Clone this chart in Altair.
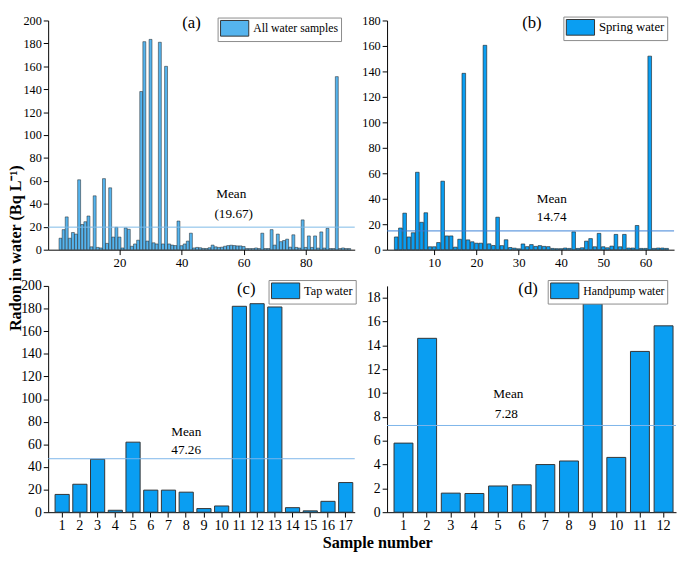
import altair as alt
import pandas as pd

# ---------------- data ----------------
all_values = [10, 17.5, 28.6, 10, 15, 13.6, 61, 22, 24.4, 29.4,
              2.5, 47, 2, 1.5, 62, 5.5, 54, 11, 19.5, 11,
              1.5, 19, 17.8, 3, 5, 8.3, 138, 181.5, 7.5, 183.5,
              6, 5, 181, 5, 160, 5, 4, 3.6, 25, 3.5,
              5, 7.5, 14.4, 1.5, 2, 1.7, 1.1, 1, 1.7, 4,
              2.5, 2, 2.2, 3, 3.6, 3.9, 3.6, 3.3, 3.3, 2.8,
              1, 1, 1, 1.5, 1, 14.4, 1, 1, 17.5, 4,
              13.6, 7, 8, 9.2, 2.2, 13, 2, 1.4, 26, 2,
              12, 2, 12, 1.4, 15.5, 1.4, 18.6, 1, 1, 151,
              1, 1.5, 1, 1]
spring_values = [10, 17, 28.7, 10, 13.3, 60.8, 21.5, 29, 2.3, 2.3,
                 5.6, 53.8, 10.8, 10.8, 2, 8.2, 138.5, 7.7, 6.2, 5.1,
                 5.1, 160.5, 4.6, 3.3, 25.5, 3.2, 7.8, 1.7, 1.2, 0.7,
                 4.5, 2.4, 4, 2.6, 3.2, 2.6, 2.4, 1, 0.8, 0.8,
                 1.3, 1, 14, 1, 1.5, 6.7, 8.7, 2.3, 12.8, 2.3,
                 1.5, 2.8, 12, 2.3, 12, 1.3, 1.3, 19, 1, 1,
                 152, 1, 1.3, 1.3, 1]
tap_values = [15.7, 24.7, 46.8, 1.7, 61.9, 19.5, 19.5, 17.7, 3.2, 5.5,
              182, 184.3, 181.4, 4, 1.2, 9.6, 26.2]
hand_values = [5.8, 14.6, 1.6, 1.57, 2.2, 2.3, 4.0, 4.3, 17.5, 4.6, 13.5, 15.65]

series_names = ["All water samples", "Spring water", "Tap water", "Handpump water"]
panel_tags = ["(a)", "(b)", "(c)", "(d)"]
mean_values = [19.67, 14.74, 47.26, 7.28]
mean_labels = ["(19.67)", "14.74", "47.26", "7.28"]

a_xticks = [20, 40, 60, 80]
b_xticks = [10, 20, 30, 40, 50, 60]
a_yticks = list(range(0, 201, 20))
b_yticks = list(range(0, 181, 20))
d_yticks = list(range(0, 19, 2))

Y_TITLE = "Radon in water (Bq L⁻¹)"
X_TITLE = "Sample number"
FONT = "Liberation Serif"
LIGHT = "#55B4EE"
DEEP = "#0A9EF2"
# wide swatch: 28.8 x 16 px drawn from a 16 px symbol box
RECT = "M-1.8,-1L1.8,-1L1.8,1L-1.8,1Z"


def legend(x, y, fs):
    return alt.Legend(orient="none", legendX=x, legendY=y, title=None,
                      symbolType=RECT, symbolSize=256, symbolStrokeColor="#333333",
                      symbolStrokeWidth=1, symbolOpacity=1, symbolOffset=6.4,
                      strokeColor="#8a8a8a", fillColor="white", padding=2.5,
                      labelFont=FONT, labelFontSize=fs, labelColor="black",
                      labelOffset=10.4)


def build_panel(df, xfield, xscale, xaxis, xtitle, yscale, yaxis, ytitle, color, legend_def,
                bar_kw, mean_value, mean_color, notes, width, height, ordinal):
    xtype = "ordinal" if ordinal else "quantitative"
    bars = alt.Chart(df).mark_bar(**bar_kw).encode(
        x=alt.X(xfield, type=xtype, scale=xscale, axis=xaxis, title=xtitle),
        y=alt.Y("value", type="quantitative", scale=yscale, axis=yaxis, title=ytitle),
        color=alt.Color("series:N", scale=alt.Scale(domain=[df["series"][0]], range=[color]),
                        legend=legend_def),
    )
    rule_df = pd.DataFrame({"value": [mean_value]})
    rule = alt.Chart(rule_df).mark_rule(color=mean_color, strokeWidth=1).encode(
        y=alt.Y("value", type="quantitative", scale=yscale, axis=yaxis, title=ytitle))
    layers = [bars, rule]
    for label, xv, yv, size, dx in notes:
        tdf = pd.DataFrame({"t": [label]})
        layers.append(
            alt.Chart(tdf).mark_text(font=FONT, fontSize=size, color="black", align="center",
                                     baseline="middle", dx=dx).encode(
                x=alt.XDatum(xv, type=xtype, scale=xscale, axis=xaxis, title=xtitle),
                y=alt.YDatum(yv, type="quantitative", scale=yscale, axis=yaxis, title=ytitle),
                text="t:N"))
    return alt.layer(*layers).properties(width=width, height=height)


# ---------------- panel (a) ----------------
df_a = pd.DataFrame({"sample": list(range(1, len(all_values) + 1)),
                     "value": all_values, "series": series_names[0]})
panel_a = build_panel(
    df_a, "sample",
    alt.Scale(domain=[-1.4, 94.2], nice=False, zero=False),
    alt.Axis(values=a_xticks, labelFontSize=13), None,
    alt.Scale(domain=[0, 200], nice=False),
    alt.Axis(values=a_yticks, labelFontSize=12.5, labelOverlap=False,
             titleFont=FONT, titleFontSize=16.5, titleFontWeight="bold",
             titleColor="black", titleX=-25, titleY=232, titleAngle=270,
             titleBaseline="bottom", titleAlign="center"),
    Y_TITLE, LIGHT, legend(173, -3, 12),
    dict(size=3, stroke="#1c1c1c", strokeWidth=0.5),
    mean_values[0], "#7DB9E6",
    [("Mean", 56, 48.7, 13.5, 0), (mean_labels[0], 56.8, 31.5, 13.5, 0),
     (panel_tags[0], 43.2, 197.4, 17, 0)],
    313, 234, False)

# ---------------- panel (b) ----------------
df_b = pd.DataFrame({"sample": list(range(1, len(spring_values) + 1)),
                     "value": spring_values, "series": series_names[1]})
panel_b = build_panel(
    df_b, "sample",
    alt.Scale(domain=[0, 65.6], nice=False, zero=False),
    alt.Axis(values=b_xticks, labelFontSize=13), None,
    alt.Scale(domain=[0, 180], nice=False),
    alt.Axis(values=b_yticks, labelFontSize=12.5, labelOverlap=False), None,
    DEEP, legend(180, -4, 13),
    dict(size=3.7, stroke="#1c1c1c", strokeWidth=0.6),
    mean_values[1], "#3A80D6",
    [("Mean", 37.8, 40, 13.5, 0), (mean_labels[1], 37.8, 25.4, 13.5, 0),
     (panel_tags[1], 33.1, 177.7, 17, 0)],
    293, 234, False)

# ---------------- panel (c) ----------------
df_c = pd.DataFrame({"sample": list(range(1, len(tap_values) + 1)),
                     "value": tap_values, "series": series_names[2]})
panel_c = build_panel(
    df_c, "sample",
    alt.Scale(paddingInner=0.2, paddingOuter=0.25, align=0.78),
    alt.Axis(labelAngle=0, labelFontSize=14.5, titleFont=FONT, titleFontSize=16.5,
             titleFontWeight="bold", titleColor="black", titleX=336, titleY=23,
             titleBaseline="top", titleAlign="center"),
    X_TITLE,
    alt.Scale(domain=[0, 200], nice=False),
    alt.Axis(values=a_yticks, labelFontSize=14, labelOverlap=False), None,
    DEEP, legend(225, -6, 12.5),
    dict(stroke="#333333", strokeWidth=1),
    mean_values[2], "#7DB5EA",
    [("Mean", 8, 71, 13.5, 0), (mean_labels[2], 8, 54.5, 13.5, 0),
     (panel_tags[2], 11, 197.4, 17, 7)],
    313, 231, True)

# ---------------- panel (d) ----------------
df_d = pd.DataFrame({"sample": list(range(1, len(hand_values) + 1)),
                     "value": hand_values, "series": series_names[3]})
panel_d = build_panel(
    df_d, "sample",
    alt.Scale(paddingInner=0.2, paddingOuter=0.21, align=0.7),
    alt.Axis(labelAngle=0, labelFontSize=14.5), None,
    alt.Scale(domain=[0, 19], nice=False),
    alt.Axis(values=d_yticks, labelFontSize=14, labelOverlap=False), None,
    DEEP, legend(164, -6, 12),
    dict(stroke="#333333", strokeWidth=1),
    mean_values[3], "#7DB5EA",
    [("Mean", 5, 9.95, 13.5, 10.5), (mean_labels[3], 5, 8.22, 13.5, 8.5),
     (panel_tags[3], 6, 18.75, 17, 6.5)],
    295, 231, True)

chart = alt.concat(panel_a, panel_b, panel_c, panel_d, columns=2,
                   spacing={"row": 37, "column": 33}, bounds="flush").resolve_scale(
    x="independent", y="independent", color="independent").resolve_legend(
    color="independent").properties(padding=0, background="white").configure_view(
    strokeWidth=0).configure_axis(
    labelFont=FONT, titleFont=FONT, labelColor="black", domainColor="black",
    tickColor="black", grid=False, tickSize=5, labelPadding=2, domainWidth=1)

chart.save("out.html", embed_options={"renderer": "svg", "actions": False})
